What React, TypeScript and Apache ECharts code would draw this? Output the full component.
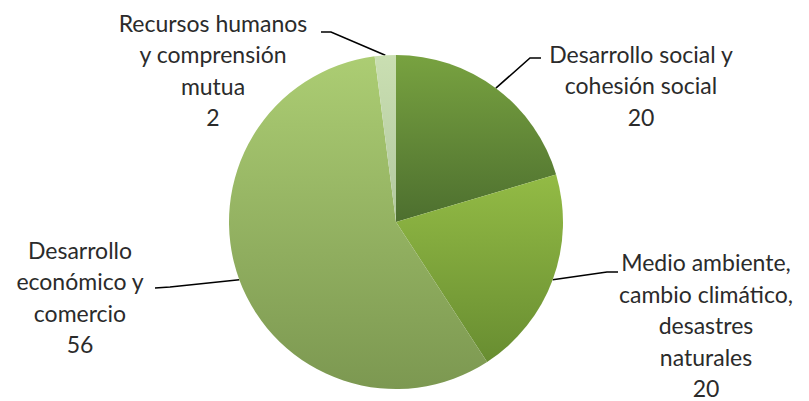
import React, { useEffect, useRef } from "react";
import * as echarts from "echarts";

const categories = [
  "Desarrollo social y\ncohesión social",
  "Medio ambiente,\ncambio climático,\ndesastres\nnaturales",
  "Desarrollo\neconómico y\ncomercio",
  "Recursos humanos\ny comprensión\nmutua",
];
const values = [20, 20, 56, 2];
const sliceColors = [
  ["#78a240", "#4d6f2f"],
  ["#93bb45", "#688d31"],
  ["#accd73", "#7c9851"],
  ["#cadfb2", "#b2c89f"],
];

// label block centre and leader line bend/end points (layout only)
const labelSpots = [
  { x: 641, y: 85, bend: [530, 58], end: [541, 58] },
  { x: 706, y: 325, bend: [607, 272], end: [618, 272] },
  { x: 80, y: 297, bend: [170, 287], end: [155, 288] },
  { x: 213, y: 70, bend: [331, 32], end: [321, 32] },
];

export default function App() {
  const ref = useRef<HTMLDivElement>(null);
  useEffect(() => {
    document.body.style.margin = "0";
    const chart = echarts.init(ref.current!, null, { renderer: "svg" });
    chart.setOption({
      animation: false,
      backgroundColor: "#ffffff",
      textStyle: { fontFamily: "Lato" },
      series: [
        {
          type: "pie",
          center: [396, 222],
          radius: 167,
          startAngle: 90,
          clockwise: true,
          data: categories.map((name, i) => ({
            name,
            value: values[i],
            itemStyle: {
              color: {
                type: "linear",
                x: 0,
                y: 0,
                x2: 0,
                y2: 1,
                colorStops: [
                  { offset: 0, color: sliceColors[i][0] },
                  { offset: 1, color: sliceColors[i][1] },
                ],
              },
            },
          })),
          itemStyle: { borderWidth: 0 },
          label: {
            show: true,
            formatter: "{b}\n{c}",
            fontFamily: "Lato",
            fontSize: 23,
            fontWeight: "normal",
            lineHeight: 31.5,
            color: "#2b2b2b",
            align: "center",
          },
          labelLine: {
            show: true,
            length: 20,
            length2: 10,
            lineStyle: { color: "#000000", width: 1.6 },
          },
          labelLayout: (params: any) => {
            const s = labelSpots[params.dataIndex];
            const start = params.labelLinePoints
              ? params.labelLinePoints[0]
              : [0, 0];
            return {
              x: s.x,
              y: s.y,
              align: "center",
              verticalAlign: "middle",
              labelLinePoints: [start, s.bend, s.end],
            };
          },
        },
      ],
    });
    return () => chart.dispose();
  }, []);
  return <div ref={ref} style={{ width: 809, height: 401 }} />;
}
